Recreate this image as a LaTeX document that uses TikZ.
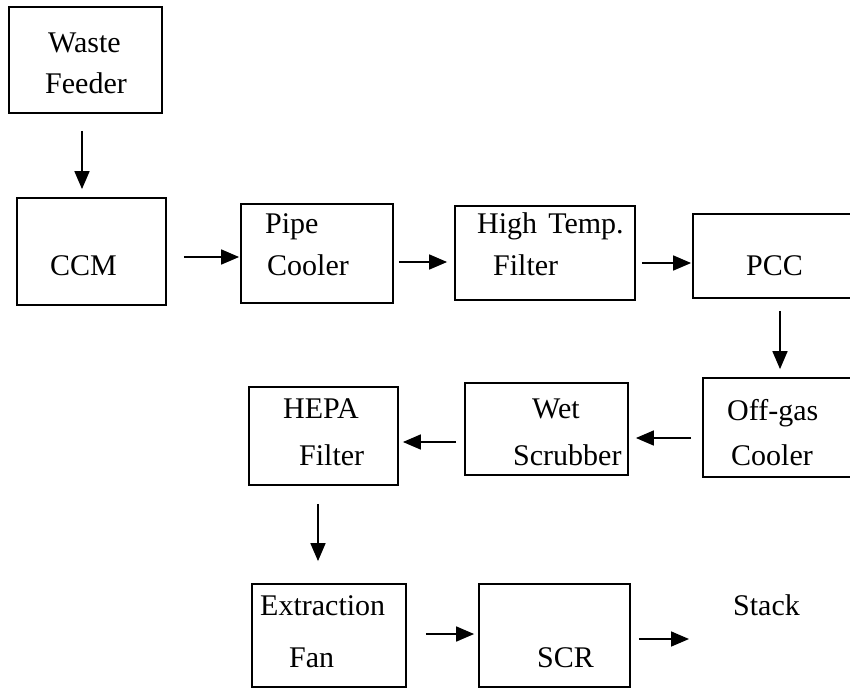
\documentclass[tikz,border=0pt]{standalone}
\usepackage{fontspec}
\setmainfont{Liberation Serif}
\usetikzlibrary{arrows.meta}
\tikzset{
  box/.style={draw=black, line width=1.8pt, rectangle, inner sep=0pt, fill=none},
  lbl/.style={inner sep=0pt, anchor=base west, font=\fontsize{30}{36}\selectfont},
  arr/.style={line width=1.7pt, -{Triangle[length=18pt,width=15pt]}}
}
\begin{document}
\begin{tikzpicture}[x=1pt,y=-1pt]
\useasboundingbox (0,0) rectangle (850,689);
\clip (0,0) rectangle (850,689);
\fill[white] (0,0) rectangle (850,689);
% boxes
\node[box, minimum width=153pt, minimum height=106pt] (wf) at (85.5,60) {};
\node[box, minimum width=149pt, minimum height=107pt] (ccm) at (91.5,251.5) {};
\node[box, minimum width=152pt, minimum height=99pt] (pipe) at (317,253.5) {};
\node[box, minimum width=180pt, minimum height=94pt] (ht) at (545,253) {};
\node[box, minimum width=207pt, minimum height=84pt] (pcc) at (796.5,256) {};
\node[box, minimum width=157pt, minimum height=99pt] (off) at (781.5,427.5) {};
\node[box, minimum width=163pt, minimum height=92pt] (wet) at (546.5,429) {};
\node[box, minimum width=149pt, minimum height=98pt] (hepa) at (323.5,436) {};
\node[box, minimum width=154pt, minimum height=103pt] (ext) at (329,635.5) {};
\node[box, minimum width=151pt, minimum height=103pt] (scr) at (554.5,635.5) {};
% labels
\node[lbl] (t1) at (48,52) {Waste};
\node[lbl] (t2) at (45,93) {Feeder};
\node[lbl] (t3) at (50,275) {CCM};
\node[lbl] (t4) at (265,233) {Pipe};
\node[lbl] (t5) at (267,275) {Cooler};
\node[lbl] (t6) at (477,233) {High\hspace{0.12em} Temp.};
\node[lbl] (t7) at (493,275) {Filter};
\node[lbl] (t8) at (746,275) {PCC};
\node[lbl] (t9) at (727,420) {Off-gas};
\node[lbl] (t10) at (731,465) {Cooler};
\node[lbl] (t11) at (532,418) {Wet};
\node[lbl] (t12) at (513,465) {Scrubber};
\node[lbl] (t13) at (283,418) {HEPA};
\node[lbl] (t14) at (299,465) {Filter};
\node[lbl] (t15) at (260,615) {Extraction};
\node[lbl] (t16) at (289,667) {Fan};
\node[lbl] (t17) at (537,667) {SCR};
\node[lbl] (stack) at (733,615) {Stack};
\coordinate (stackin) at (689,639);
% connectors
\draw[arr] ([shift={(-3.5,17)}]wf.south) -- ([shift={(-9.5,-8)}]ccm.north);
\draw[arr] ([shift={(17,5.5)}]ccm.east) -- ([shift={(-1,3.5)}]pipe.west);
\draw[arr] ([shift={(5,8.5)}]pipe.east) -- ([shift={(-7,9)}]ht.west);
\draw[arr] ([shift={(6,10)}]ht.east) -- ([shift={(-1,7)}]pcc.west);
\draw[arr] ([shift={(-16.5,12)}]pcc.south) -- ([shift={(-1.5,-8)}]off.north);
\draw[arr] ([shift={(-11,10.5)}]off.west) -- ([shift={(7,9)}]wet.east);
\draw[arr] ([shift={(-8,13)}]wet.west) -- ([shift={(4,6)}]hepa.east);
\draw[arr] ([shift={(-5.5,18)}]hepa.south) -- ([shift={(-11,-22)}]ext.north);
\draw[arr] ([shift={(19,-1.5)}]ext.east) -- ([shift={(-4,-1.5)}]scr.west);
\draw[arr] ([shift={(8,3.5)}]scr.east) -- (stackin);
\end{tikzpicture}
\end{document}
